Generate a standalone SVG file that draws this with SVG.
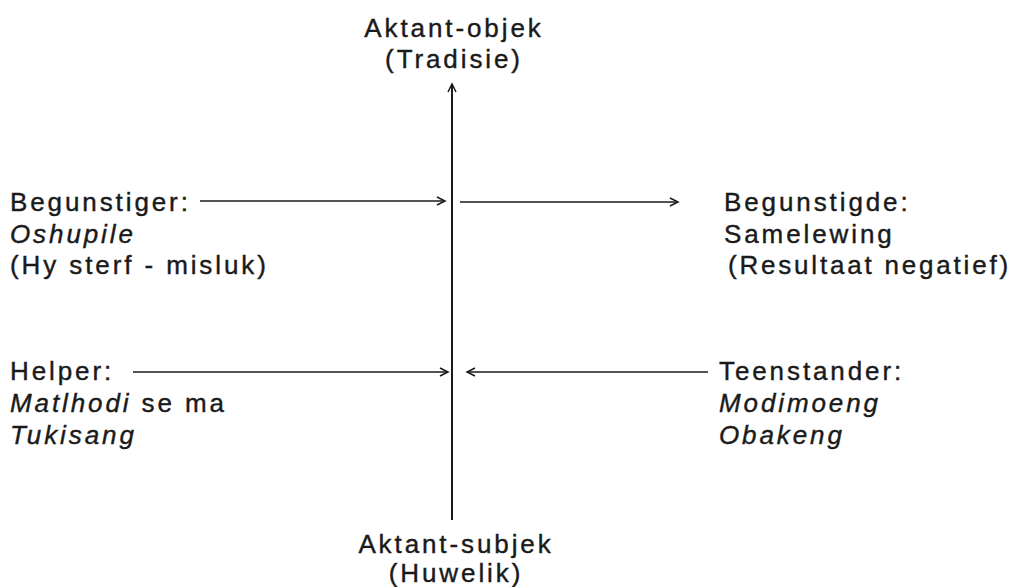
<svg xmlns="http://www.w3.org/2000/svg" width="1013" height="587" viewBox="0 0 1013 587">
<defs>
<marker id="ah" markerUnits="userSpaceOnUse" markerWidth="12" markerHeight="12" viewBox="-10 -6 12 12" refX="0" refY="0" orient="auto">
<path d="M-8,-4 L0,0 L-8,4" fill="none" stroke="#1a1a1a" stroke-width="1.5"/>
</marker>
</defs>
<style>
text{font-family:"Liberation Sans",Arial,sans-serif;font-size:26px;letter-spacing:2.9px;fill:#1a1a1a;stroke:#1a1a1a;stroke-width:0.4px}
.i{font-style:italic}
.c{text-anchor:middle}
.ln{stroke:#1a1a1a;stroke-width:1.4;fill:none;marker-end:url(#ah)}
.ax{stroke:#1a1a1a;stroke-width:2;fill:none;marker-end:url(#ah)}
</style>
<rect width="1013" height="587" fill="#fff"/>
<g id="connectors">
<line class="ax" x1="452" y1="520" x2="452" y2="84"/>
<line class="ln" x1="200" y1="201" x2="445" y2="201"/>
<line class="ln" x1="460" y1="202" x2="678" y2="202"/>
<line class="ln" x1="133" y1="372" x2="448" y2="372"/>
<line class="ln" x1="708" y1="372" x2="467" y2="372"/>
</g>
<g id="aktant-objek">
<text class="c" x="454" y="37">Aktant-objek</text>
<text class="c" x="454" y="68">(Tradisie)</text>
</g>
<g id="begunstiger">
<text x="10" y="211">Begunstiger:</text>
<text class="i" x="10" y="243">Oshupile</text>
<text x="10" y="274">(Hy sterf - misluk)</text>
</g>
<g id="begunstigde">
<text x="724" y="211">Begunstigde:</text>
<text x="724" y="243">Samelewing</text>
<text x="728" y="274" style="letter-spacing:2.8px">(Resultaat negatief)</text>
</g>
<g id="helper">
<text x="10" y="380">Helper:</text>
<text x="10" y="412"><tspan class="i">Matlhodi</tspan> se ma</text>
<text class="i" x="10" y="444">Tukisang</text>
</g>
<g id="teenstander">
<text x="719" y="380">Teenstander:</text>
<text class="i" x="719" y="412">Modimoeng</text>
<text class="i" x="719" y="444">Obakeng</text>
</g>
<g id="aktant-subjek">
<text class="c" x="456" y="553">Aktant-subjek</text>
<text class="c" x="456" y="582">(Huwelik)</text>
</g>
</svg>
